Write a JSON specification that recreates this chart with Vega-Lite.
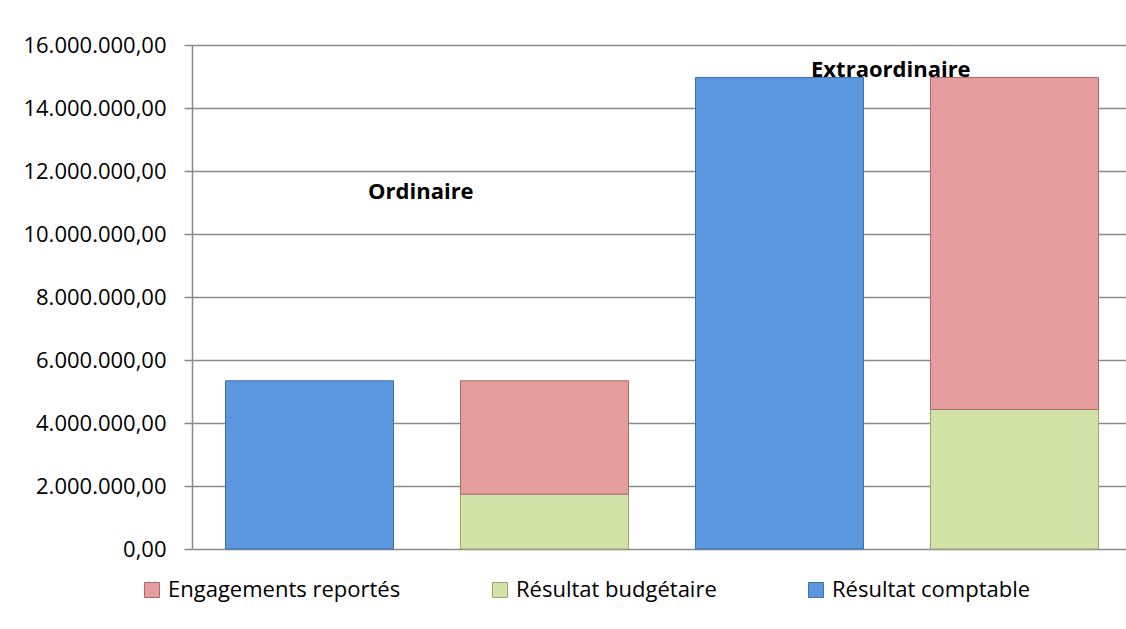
{
  "$schema": "https://vega.github.io/schema/vega-lite/v6.json",
  "width": 940,
  "height": 504,
  "autosize": {"type": "none"},
  "padding": {"left": 192, "top": 45, "right": -6, "bottom": 80},
  "background": "white",
  "config": {
    "locale": {"number": {"decimal": ",", "thousands": ".", "grouping": [3], "currency": ["", " €"]}},
    "font": "Open Sans",
    "view": {"stroke": null}
  },
  "datasets": {
    "bars": [
      {"barre": "Ordinaire comptable", "serie": "Résultat comptable", "valeur": 5340000},
      {"barre": "Ordinaire budgétaire", "serie": "Résultat budgétaire", "valeur": 1740000},
      {"barre": "Ordinaire budgétaire", "serie": "Engagements reportés", "valeur": 3600000},
      {"barre": "Extraordinaire comptable", "serie": "Résultat comptable", "valeur": 14970000},
      {"barre": "Extraordinaire budgétaire", "serie": "Résultat budgétaire", "valeur": 4430000},
      {"barre": "Extraordinaire budgétaire", "serie": "Engagements reportés", "valeur": 10540000}
    ],
    "labels": [
      {"barre": "Ordinaire budgétaire", "label": "Ordinaire", "valeur": 11330000},
      {"barre": "Extraordinaire budgétaire", "label": "Extraordinaire", "valeur": 15220000}
    ]
  },
  "layer": [
    {
      "data": {"name": "bars"},
      "mark": {"type": "bar", "strokeWidth": 1},
      "encoding": {
        "x": {
          "field": "barre", "type": "nominal",
          "scale": {"domain": ["Ordinaire comptable", "Ordinaire budgétaire", "Extraordinaire comptable", "Extraordinaire budgétaire"], "paddingInner": 0.285, "paddingOuter": 0.1425},
          "axis": null
        },
        "y": {
          "field": "valeur", "type": "quantitative", "stack": "zero",
          "scale": {"domain": [0, 16000000], "nice": false},
          "axis": {
            "title": null,
            "values": [0, 2000000, 4000000, 6000000, 8000000, 10000000, 12000000, 14000000, 16000000],
            "format": ",.2f",
            "labelFont": "Open Sans",
            "labelFontSize": 22,
            "labelColor": "#000000",
            "labelPadding": 18,
            "tickSize": 8,
            "tickColor": "#8a8a8a",
            "tickWidth": 1.5,
            "domainColor": "#8a8a8a",
            "domainWidth": 1.5,
            "gridColor": "#8a8a8a",
            "gridWidth": 1.5
          }
        },
        "color": {
          "field": "serie", "type": "nominal",
          "scale": {"domain": ["Engagements reportés", "Résultat budgétaire", "Résultat comptable"], "range": ["#E59E9D", "#D1E3A6", "#5B97DE"]},
          "legend": {
            "title": null,
            "orient": "none",
            "direction": "horizontal",
            "legendX": -51,
            "legendY": 534,
            "symbolType": "square",
            "symbolSize": 225,
            "symbolStrokeWidth": 1,
            "labelFont": "Open Sans",
            "labelFontSize": 22,
            "labelColor": "#000000",
            "labelOffset": 5,
            "labelLimit": 0,
            "columnPadding": 88
          }
        },
        "stroke": {
          "field": "serie", "type": "nominal",
          "scale": {"domain": ["Engagements reportés", "Résultat budgétaire", "Résultat comptable"], "range": ["#A96B6A", "#98A672", "#3E6FAE"]}
        },
        "order": {"field": "serie", "sort": "descending"}
      }
    },
    {
      "data": {"name": "labels"},
      "mark": {"type": "text", "font": "Open Sans", "fontWeight": "bold", "fontSize": 22, "align": "center", "baseline": "middle", "color": "#000000"},
      "encoding": {
        "x": {"field": "barre", "type": "nominal", "bandPosition": -0.236},
        "y": {"field": "valeur", "type": "quantitative"},
        "text": {"field": "label", "type": "nominal"}
      }
    }
  ]
}
